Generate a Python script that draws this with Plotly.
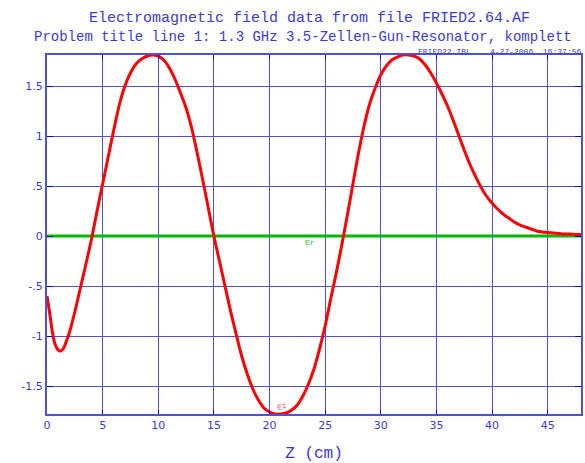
import plotly.graph_objects as go

z_cm = [0, 0.25, 0.5, 0.75, 1.0, 1.25, 1.5, 1.75, 2.0, 2.5, 3.0, 3.5, 4.0, 4.5,
        5.0, 5.5, 6.0, 6.5, 7.0, 7.5, 8.0, 8.5, 9.0, 9.5, 10.0, 10.5, 11.0, 11.5,
        12.0, 12.5, 13.0, 13.5, 14.0, 14.5, 15.0, 15.5, 16.0, 16.5, 17.0, 17.5,
        18.0, 18.5, 19.0, 19.5, 20.0, 20.5, 21.0, 21.5, 22.0, 22.5, 23.0, 23.5,
        24.0, 24.5, 25.0, 25.5, 26.0, 26.5, 27.0, 27.5, 28.0, 28.5, 29.0, 29.5,
        30.0, 30.5, 31.0, 31.5, 32.0, 32.5, 33.0, 33.5, 34.0, 34.5, 35.0, 35.5,
        36.0, 36.5, 37.0, 37.5, 38.0, 38.5, 39.0, 39.5, 40.0, 40.5, 41.0, 41.5,
        42.0, 42.5, 43.0, 43.5, 44.0, 44.5, 45.0, 45.5, 46.0, 46.5, 47.0, 47.5, 48.0]
ez = [-0.60, -0.78, -0.97, -1.09, -1.14, -1.15, -1.12, -1.05, -0.97, -0.76, -0.52, -0.28, -0.03, 0.25,
      0.52, 0.79, 1.06, 1.31, 1.50, 1.63, 1.72, 1.77, 1.80, 1.81, 1.80, 1.76, 1.68, 1.57,
      1.43, 1.28, 1.08, 0.83, 0.56, 0.28, 0.0, -0.25, -0.50, -0.75, -0.98, -1.20,
      -1.38, -1.53, -1.64, -1.72, -1.76, -1.78, -1.78, -1.77, -1.74, -1.69, -1.60, -1.48,
      -1.33, -1.13, -0.90, -0.63, -0.37, -0.09, 0.21, 0.52, 0.83, 1.10, 1.32, 1.48,
      1.61, 1.70, 1.76, 1.79, 1.81, 1.81, 1.80, 1.77, 1.71, 1.63, 1.53, 1.42,
      1.30, 1.16, 1.01, 0.86, 0.72, 0.60, 0.49, 0.40, 0.33, 0.27, 0.22, 0.18,
      0.14, 0.11, 0.09, 0.07, 0.05, 0.04, 0.035, 0.03, 0.025, 0.02, 0.02, 0.015, 0.015]
er_z = [0, 48]
er = [0, 0]

x_ticks = [0, 5, 10, 15, 20, 25, 30, 35, 40, 45]
x_labels = ["0", "5", "10", "15", "20", "25", "30", "35", "40", "45"]
y_ticks = [1.5, 1, 0.5, 0, -0.5, -1, -1.5]
y_labels = ["1.5", "1", ".5", "0", "-.5", "-1", "-1.5"]

title1 = "Electromagnetic field data from file FRIED2.64.AF"
title2 = "Problem title line 1: 1.3 GHz 3.5-Zellen-Gun-Resonator, komplett"
stamp = "FRIED22.TBL    4-27-2006  16:37:56"

blue = "#3a3ad8"
grid = "#4f4fe0"
mono = "Liberation Mono, Courier New, monospace"

fig = go.Figure()
fig.add_trace(go.Scatter(x=er_z, y=er, mode="lines",
                         line=dict(color="#00bb00", width=3), showlegend=False))
fig.add_trace(go.Scatter(x=z_cm, y=ez, mode="lines", line_shape="spline",
                         line=dict(color="#ff0000", width=3), showlegend=False))

fig.add_annotation(x=23.6, y=-0.06, text="Er", showarrow=False,
                   font=dict(family=mono, size=8, color="#22bb22"))
fig.add_annotation(x=21.1, y=-1.70, text="Ez", showarrow=False, textangle=-20,
                   font=dict(family=mono, size=8, color="#ff5555"))

fig.add_annotation(xref="paper", yref="paper", x=0.4925, y=1, yshift=26,
                   text=title1, showarrow=False, xanchor="center", yanchor="bottom",
                   font=dict(family=mono, size=15, color=blue))
fig.add_annotation(xref="paper", yref="paper", x=0.479, y=1, yshift=8,
                   text=title2, showarrow=False, xanchor="center", yanchor="bottom",
                   font=dict(family=mono, size=14, color=blue))
fig.add_annotation(xref="paper", yref="paper", x=1, y=1, yshift=-3, xshift=2,
                   text=stamp, showarrow=False, xanchor="right", yanchor="bottom",
                   font=dict(family=mono, size=8, color=blue))

fig.update_layout(
    width=585, height=463,
    margin=dict(l=47, r=2, t=55, b=49),
    paper_bgcolor="white", plot_bgcolor="white",
    xaxis=dict(range=[0, 48], tickvals=x_ticks, ticktext=x_labels,
               showgrid=True, gridcolor=grid, gridwidth=1,
               showline=True, linecolor=grid, linewidth=2, mirror="ticks",
               ticks="inside", ticklen=4, tickcolor="#0000cc", zeroline=False,
               tickfont=dict(family="DejaVu Sans", size=11, color=blue),
               title=dict(text="Z (cm)", standoff=18,
                          font=dict(family=mono, size=16, color=blue))),
    yaxis=dict(range=[-1.78, 1.81], tickvals=y_ticks, ticktext=y_labels,
               showgrid=True, gridcolor=grid, gridwidth=1,
               showline=True, linecolor=grid, linewidth=2, mirror="ticks",
               ticks="inside", ticklen=6, tickcolor="#0000cc", zeroline=False,
               tickfont=dict(family="DejaVu Sans", size=11, color=blue)),
)

fig.write_html("out.html", config={"displayModeBar": False},
               post_script="document.body.style.margin='0';document.body.style.overflow='hidden';")
